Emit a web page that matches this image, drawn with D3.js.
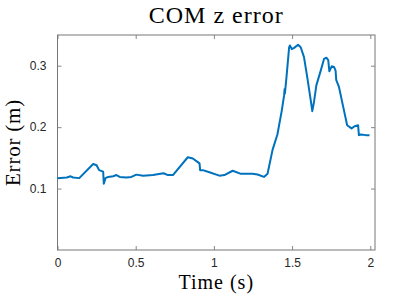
<!DOCTYPE html>
<html>
<head>
<meta charset="utf-8">
<script src="https://cdn.jsdelivr.net/npm/d3@7"></script>
<style>
  body { margin: 0; background: #fff; }
  .tick text { font-family: "Liberation Sans", Arial, sans-serif; font-size: 12px; fill: #262626; }
  .lbl { font-family: "Liberation Serif", "Times New Roman", serif; fill: #000; }
</style>
</head>
<body>
<div id="chart"></div>
<script>
// data
var times = [0, 0.059, 0.084, 0.10, 0.139, 0.228, 0.25, 0.266, 0.292, 0.296, 0.307, 0.324, 0.356, 0.377, 0.398,
  0.44, 0.473, 0.504, 0.547, 0.61, 0.678, 0.706, 0.738, 0.833, 0.865, 0.897, 0.908, 0.912, 0.929, 0.971,
  1.035, 1.067, 1.12, 1.173, 1.247, 1.279, 1.32, 1.343, 1.375, 1.406, 1.434, 1.449, 1.452, 1.454, 1.464,
  1.481, 1.486, 1.498, 1.513, 1.538, 1.555, 1.576, 1.597, 1.619, 1.629, 1.640, 1.655, 1.683, 1.704, 1.719,
  1.731, 1.738, 1.753, 1.768, 1.778, 1.782, 1.80, 1.825, 1.852, 1.88, 1.90, 1.922, 1.927, 1.94, 1.97, 1.995];
var errs = [0.117, 0.118, 0.120, 0.118, 0.117, 0.140, 0.138, 0.130, 0.1275, 0.108, 0.117, 0.119, 0.120, 0.122, 0.119,
  0.118, 0.119, 0.1227, 0.121, 0.122, 0.125, 0.122, 0.122, 0.151, 0.149, 0.143, 0.141, 0.130, 0.130, 0.1265,
  0.121, 0.122, 0.129, 0.124, 0.124, 0.123, 0.119, 0.124, 0.163, 0.188, 0.227, 0.252, 0.262, 0.255, 0.281,
  0.330, 0.333, 0.327, 0.329, 0.334, 0.330, 0.314, 0.281, 0.244, 0.226, 0.241, 0.268, 0.292, 0.311, 0.313,
  0.309, 0.291, 0.299, 0.298, 0.292, 0.277, 0.265, 0.235, 0.203, 0.198, 0.2015, 0.203, 0.187, 0.188, 0.187, 0.187];
var xTicks = [0, 0.5, 1, 1.5, 2];
var yTicks = [0.1, 0.2, 0.3];

var margin = {top: 35, right: 40, bottom: 50, left: 57.5},
    width = 415 - margin.left - margin.right,
    height = 300 - margin.top - margin.bottom;

var svg = d3.select("#chart").append("svg")
    .attr("width", 415)
    .attr("height", 300)
    .append("g")
    .attr("transform", "translate(" + margin.left + "," + margin.top + ")");

var x = d3.scaleLinear().domain([0, 2.03]).range([0, width]);
var y = d3.scaleLinear().domain([0, 0.35]).range([height, 0]);

function styleAxis(g) {
    g.select(".domain").remove();
    g.selectAll(".tick line").attr("stroke", "#555").attr("stroke-width", 0.7);
}

// bottom / left axes with labels, ticks pointing inward
svg.append("g")
    .attr("transform", "translate(0," + height + ")")
    .call(d3.axisBottom(x).tickValues(xTicks).tickSizeInner(-4).tickPadding(8).tickFormat(d3.format("")))
    .call(styleAxis);
svg.append("g")
    .call(d3.axisLeft(y).tickValues(yTicks).tickSizeInner(-4).tickPadding(11).tickFormat(d3.format("")))
    .call(styleAxis);
// top / right ticks only
svg.append("g")
    .call(d3.axisTop(x).tickValues(xTicks).tickSizeInner(-4).tickFormat(""))
    .call(styleAxis);
svg.append("g")
    .attr("transform", "translate(" + width + ",0)")
    .call(d3.axisRight(y).tickValues(yTicks).tickSizeInner(-4).tickFormat(""))
    .call(styleAxis);

// box
svg.append("rect")
    .attr("width", width)
    .attr("height", height)
    .attr("fill", "none")
    .attr("stroke", "#777")
    .attr("stroke-width", 1);

// line
var pts = times.map(function (t, i) { return [t, errs[i]]; });
svg.append("path")
    .datum(pts)
    .attr("fill", "none")
    .attr("stroke", "#0072BD")
    .attr("stroke-width", 2)
    .attr("stroke-linejoin", "round")
    .attr("d", d3.line()
        .x(function (d) { return x(d[0]); })
        .y(function (d) { return y(d[1]); }));

// title
svg.append("text")
    .attr("class", "lbl")
    .attr("x", width / 2)
    .attr("y", -12)
    .style("font-size", "24px")
    .style("letter-spacing", "1px")
    .style("text-anchor", "middle")
    .text("COM z error");

// x label
svg.append("text")
    .attr("class", "lbl")
    .attr("x", width / 2)
    .attr("y", height + 39)
    .style("font-size", "20px")
    .style("letter-spacing", "1px")
    .style("text-anchor", "middle")
    .text("Time (s)");

// y label
svg.append("text")
    .attr("class", "lbl")
    .attr("transform", "rotate(-90)")
    .attr("x", -height / 2)
    .attr("y", -margin.left + 20)
    .style("font-size", "21px")
    .style("letter-spacing", "0.8px")
    .style("text-anchor", "middle")
    .text("Error (m)");
</script>
</body>
</html>
